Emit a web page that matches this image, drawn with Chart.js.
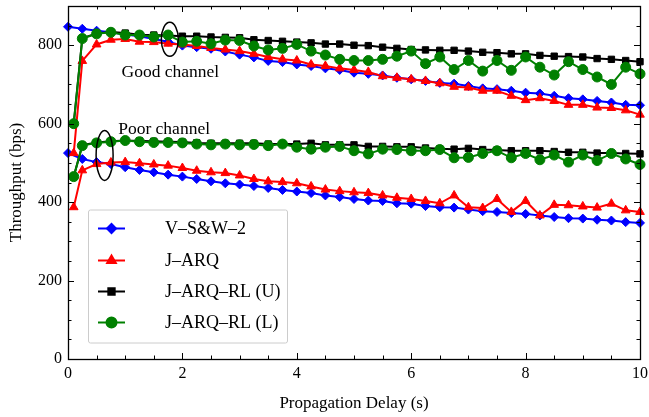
<!DOCTYPE html>
<html>
<head>
<meta charset="utf-8">
<script src="https://cdn.jsdelivr.net/npm/chart.js@4.4.1/dist/chart.umd.min.js"></script>
<style>
  body { margin:0; background:#fff; }
  #wrap { width:649px; height:417px; }
</style>
</head>
<body>
<div id="wrap"><canvas id="c" width="649" height="417"></canvas></div>
<script>
// propagation delay (s), one point every 0.25 s
const delays = [0,0.25,0.5,0.75,1,1.25,1.5,1.75,2,2.25,2.5,2.75,3,3.25,3.5,3.75,4,4.25,4.5,4.75,5,
  5.25,5.5,5.75,6,6.25,6.5,6.75,7,7.25,7.5,7.75,8,8.25,8.5,8.75,9,9.25,9.5,9.75,10]
// the ARQ schemes start at 0.1 s instead of 0
const delaysJ = [0.1].concat(delays.slice(1))

const xTicks = [0,2,4,6,8,10]
const yTicks = [0,200,400,600,800]

// good channel
const swGood = [847,842,837,833,827,823,816,809,799,795,791,784,776,769,760,757,751,747,741,737,730,
  727,723,717,713,709,704,702,696,690,688,684,679,677,671,665,662,658,654,648,647]
const arqGood = [525,760,802,814,816,809,808,804,802,798,793,789,785,778,770,764,761,751,747,741,737,
  732,721,717,713,709,703,694,692,684,684,671,660,665,658,648,648,641,640,634,623]
const rlUGood = [600,818,830,834,831,827,826,825,823,823,821,820,819,814,812,810,808,806,803,803,800,
  799,795,792,789,788,787,787,785,782,781,778,778,774,772,771,770,766,764,761,758]
const rlLGood = [600,817,829,833,826,826,821,826,808,810,804,813,812,798,788,792,802,785,775,764,761,
  761,764,772,785,753,770,738,761,734,761,736,770,744,724,758,738,719,700,744,727]

// poor channel
const swPoor = [525,510,502,497,489,482,476,470,465,459,453,448,445,441,436,431,427,423,417,413,408,
  404,403,397,396,390,387,386,381,377,375,372,370,366,362,359,358,355,353,349,347]
const arqPoor = [387,481,497,501,502,499,496,493,487,480,476,474,468,459,453,451,448,440,432,428,425,
  423,417,411,408,403,397,417,387,385,408,375,403,366,393,392,389,386,396,379,375]
const rlUPoor = [465,545,552,555,557,556,555,554,553,551,550,550,550,550,548,548,548,550,546,546,546,
  542,542,541,541,538,536,535,537,534,533,531,531,531,529,527,527,525,525,524,523]
const rlLPoor = [465,544,551,554,557,554,552,552,551,548,546,548,546,547,544,548,540,535,540,542,531,
  523,535,534,531,531,534,513,514,524,531,513,524,508,520,502,520,506,524,510,496]

const serif = '"Liberation Serif", "DejaVu Serif", serif'

const pts = (xs, ys) => ys.map((v,i) => ({x:xs[i], y:v}))

// order: higher is drawn first (further back)
const styles = {
  'V–S&W–2':       {color:'#0000ff', point:'rectRot',  r:4.5, order:4},
  'J–ARQ':         {color:'#ff0000', point:'triangle', r:5,   order:3},
  'J–ARQ–RL (U)':  {color:'#000000', point:'rect',     r:4.5, order:2},
  'J–ARQ–RL (L)':  {color:'#008000', point:'circle',   r:5,   order:1}
}

function ds(label, xs, ys) {
  const s = styles[label]
  return {
    label:label,
    data:pts(xs, ys),
    order:s.order,
    borderColor:s.color,
    backgroundColor:s.color,
    borderWidth:2,
    pointStyle:s.point,
    pointRadius:s.r,
    pointBorderWidth:1,
    pointBackgroundColor:s.color,
    pointBorderColor:s.color,
    tension:0,
    clip:8
  }
}

const datasets = [
  ds('V–S&W–2', delays, swGood),
  ds('V–S&W–2', delays, swPoor),
  ds('J–ARQ', delaysJ, arqGood),
  ds('J–ARQ', delaysJ, arqPoor),
  ds('J–ARQ–RL (U)', delaysJ, rlUGood),
  ds('J–ARQ–RL (U)', delaysJ, rlUPoor),
  ds('J–ARQ–RL (L)', delaysJ, rlLGood),
  ds('J–ARQ–RL (L)', delaysJ, rlLPoor)
]

// frame with inward ticks on all four sides
const frameTicks = {
  id:'frameTicks',
  afterDatasetsDraw(chart) {
    const ctx = chart.ctx, a = chart.chartArea
    const xs = chart.scales.x, ys = chart.scales.y
    ctx.save()
    ctx.strokeStyle = '#000'
    ctx.lineWidth = 1
    ctx.beginPath()
    for (let v = 0; v <= 10.001; v += 0.5) {
      const px = Math.round(xs.getPixelForValue(v)) + 0.5
      const len = (Math.abs(v % 2) < 1e-6) ? 6 : 3.5
      ctx.moveTo(px, a.bottom); ctx.lineTo(px, a.bottom - len)
      ctx.moveTo(px, a.top); ctx.lineTo(px, a.top + len)
    }
    for (let v = 0; v <= 900; v += 50) {
      const py = Math.round(ys.getPixelForValue(v)) + 0.5
      const len = (v % 200 === 0) ? 6 : 3.5
      ctx.moveTo(a.left, py); ctx.lineTo(a.left + len, py)
      ctx.moveTo(a.right, py); ctx.lineTo(a.right - len, py)
    }
    ctx.stroke()
    ctx.lineWidth = 1.3
    ctx.strokeRect(Math.round(a.left) + 0.5, Math.round(a.top) + 0.5,
      Math.round(a.right - a.left), Math.round(a.bottom - a.top))
    ctx.restore()
  }
}

// channel notes, ellipses and the legend box
const notes = {
  id:'notes',
  afterDraw(chart) {
    const ctx = chart.ctx
    const xs = chart.scales.x, ys = chart.scales.y
    ctx.save()
    ctx.strokeStyle = '#000'
    ctx.lineWidth = 1.5
    ctx.beginPath()
    ctx.ellipse(xs.getPixelForValue(1.78), ys.getPixelForValue(815), 8.5, 17, 0, 0, Math.PI*2)
    ctx.stroke()
    ctx.beginPath()
    ctx.ellipse(xs.getPixelForValue(0.64), ys.getPixelForValue(519), 8.5, 25, 0, 0, Math.PI*2)
    ctx.stroke()

    ctx.fillStyle = '#000'
    ctx.font = '17.5px ' + serif
    ctx.textAlign = 'center'
    ctx.textBaseline = 'alphabetic'
    ctx.fillText('Good channel', xs.getPixelForValue(1.79), ys.getPixelForValue(719))
    ctx.fillText('Poor channel', xs.getPixelForValue(1.68), ys.getPixelForValue(574))

    // legend
    const bx = 88, by = 209.5, bw = 199, bh = 133
    ctx.fillStyle = '#fff'
    ctx.strokeStyle = '#cccccc'
    ctx.lineWidth = 1
    ctx.beginPath()
    ctx.roundRect(bx + 0.5, by + 0.5, bw, bh, 2)
    ctx.fill()
    ctx.stroke()
    const labels = Object.keys(styles)
    const rows = [228.5, 260.5, 291.5, 322.5]
    labels.forEach((lab, i) => {
      const s = styles[lab], y = rows[i]
      ctx.strokeStyle = s.color
      ctx.fillStyle = s.color
      ctx.lineWidth = 2
      ctx.beginPath()
      ctx.moveTo(98, y); ctx.lineTo(125, y)
      ctx.stroke()
      Chart.helpers.drawPoint(ctx, {pointStyle:s.point, radius:s.r, borderWidth:1, rotation:0}, 111.5, y)
      ctx.fillStyle = '#000'
      ctx.font = '18px ' + serif
      ctx.textAlign = 'left'
      ctx.textBaseline = 'middle'
      ctx.fillText(lab, 165, y + 1)
    })
    ctx.restore()
  }
}

new Chart(document.getElementById('c'), {
  type:'line',
  data:{ datasets:datasets },
  options:{
    responsive:false,
    animation:false,
    layout:{ autoPadding:false, padding:{ top:6, right:9, left:0, bottom:0 }},
    plugins:{ legend:{ display:false }, tooltip:{ enabled:false }},
    scales:{
      x:{
        type:'linear', min:0, max:10,
        afterBuildTicks:s => { s.ticks = xTicks.map(v => ({value:v})) },
        afterFit:s => { s.height = 58; s.paddingLeft = 0; s.paddingRight = 0 },
        grid:{ display:false, drawTicks:false },
        border:{ display:false },
        ticks:{ color:'#000', padding:5, font:{family:serif, size:16}},
        title:{ display:true, text:'Propagation Delay (s)', color:'#000',
          font:{family:serif, size:17}, padding:{top:0, bottom:3}}
      },
      y:{
        min:0, max:900,
        afterBuildTicks:s => { s.ticks = yTicks.map(v => ({value:v})) },
        afterFit:s => { s.width = 68; s.paddingTop = 0; s.paddingBottom = 0 },
        grid:{ display:false, drawTicks:false },
        border:{ display:false },
        ticks:{ color:'#000', padding:6, font:{family:serif, size:16}},
        title:{ display:true, text:'Throughput (bps)', color:'#000',
          font:{family:serif, size:17}, padding:{top:6, bottom:0}}
      }
    }
  },
  plugins:[frameTicks, notes]
})
</script>
</body>
</html>
